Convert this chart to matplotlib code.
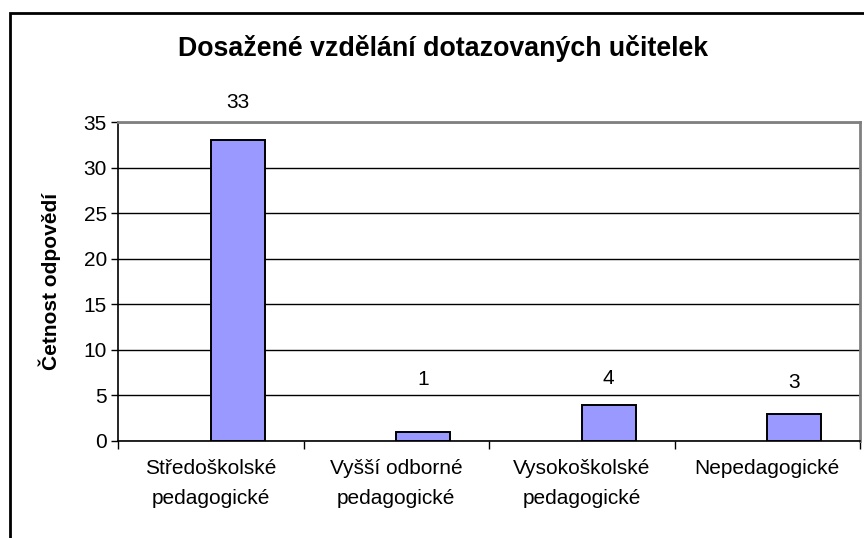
import matplotlib
matplotlib.use("Agg")
import matplotlib.pyplot as plt
from matplotlib.patches import Rectangle

categories = ["Středoškolské\npedagogické", "Vyšší odborné\npedagogické",
              "Vysokoškolské\npedagogické", "Nepedagogické"]
counts = [33, 1, 4, 3]
# heights where the value labels sit (moved by hand in the original)
label_y = [37.1, 6.7, 6.9, 6.4]

plt.rcParams['font.family'] = ['Liberation Sans', 'DejaVu Sans']

fig = plt.figure(figsize=(8.64, 5.38), dpi=100)
ax = fig.add_axes([118 / 864, 97 / 538, 742 / 864, 319 / 538])

x = list(range(len(categories)))
ax.bar(x, counts, width=0.29, align='edge', color='#9999FF',
       edgecolor='black', linewidth=1.4, zorder=3)

for xi, v, ly in zip(x, counts, label_y):
    ax.text(xi + 0.145, ly, str(v), ha='center', va='center', fontsize=15,
            clip_on=False)

ax.set_xlim(-0.5, len(categories) - 0.5)
ax.set_ylim(0, 35)
ax.set_yticks(range(0, 36, 5))
ax.tick_params(axis='y', labelsize=15, length=5, width=1, pad=3)
ax.yaxis.grid(True, color='black', linewidth=1.0, zorder=0)

ax.set_xticks([i - 0.5 for i in range(len(categories) + 1)])
ax.set_xticklabels([])
ax.tick_params(axis='x', which='major', length=6, width=1)
ax.set_xticks(x, minor=True)
ax.set_xticklabels(categories, minor=True, fontsize=15, linespacing=1.7)
ax.tick_params(axis='x', which='minor', length=0, pad=13)

for side in ['left', 'bottom']:
    ax.spines[side].set_color('black')
    ax.spines[side].set_linewidth(1.2)
for side in ['top', 'right']:
    ax.spines[side].set_color('#808080')
    ax.spines[side].set_linewidth(2)

ax.set_ylabel('Četnost odpovědí', fontsize=15, fontweight='bold', labelpad=16)
fig.text(443 / 864, 1 - 48 / 538, 'Dosažené vzdělání dotazovaných učitelek',
         ha='center', va='center', fontsize=19.3, fontweight='bold')

fig.patches.append(Rectangle((10 / 864, -0.1), 1.0, 0.1 + (538 - 13) / 538,
                             transform=fig.transFigure, fill=False,
                             edgecolor='black', linewidth=2))

fig.savefig('out.png', dpi=100)
plt.close(fig)
